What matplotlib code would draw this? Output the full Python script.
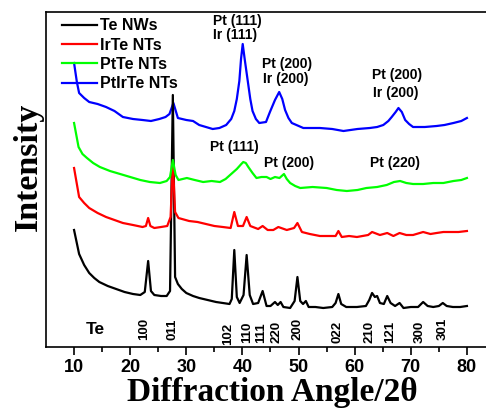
import matplotlib
matplotlib.use("Agg")
import matplotlib.pyplot as plt
from matplotlib.lines import Line2D

plt.rcParams['font.family'] = ['Liberation Sans', 'DejaVu Sans']

# XRD patterns (2theta in degrees, intensity in arbitrary units, offset per sample)
te_x = [10.0, 10.9, 11.8, 12.7, 13.6, 14.5, 16.0, 17.5, 19.0, 20.5,
        21.8, 22.6, 23.2, 23.7, 24.3, 25.5, 26.5, 27.1, 27.6, 28.0,
        28.5, 29.2, 30.0, 31.2, 32.3, 33.8, 35.3, 36.5, 37.7, 38.1,
        38.55, 39.0, 39.5, 40.2, 40.75, 41.3, 41.9, 42.8, 43.6, 44.3,
        45.0, 45.8, 46.3, 46.8, 47.3, 48.5, 49.3, 49.8, 50.3, 50.8,
        51.3, 51.8, 53.0, 54.4, 56.0, 56.6, 57.1, 57.6, 58.5, 60.4,
        62.0, 62.6, 63.1, 63.6, 64.0, 64.5, 65.2, 65.8, 66.4, 67.2,
        68.0, 68.7, 70.0, 71.3, 72.2, 73.0, 74.0, 75.0, 75.7, 76.4,
        77.5, 78.8, 80.0]
te_y = [117, 93, 82, 74, 69, 65, 61, 58, 55, 53,
        52, 55, 86, 56, 52, 51, 51, 56, 252, 70,
        63, 58, 54, 51, 49, 47, 45, 44, 43, 48,
        97, 50, 44, 52, 92, 52, 43, 44, 56, 41,
        41, 45, 42, 45, 40, 39, 46, 70, 46, 43,
        46, 40, 40, 39, 40, 44, 53, 43, 40, 40,
        41, 47, 54, 50, 51, 44, 43, 51, 44, 41,
        44, 39, 40, 40, 45, 41, 40, 41, 44, 41,
        40, 40, 41]

irte_x = [10.0, 10.9, 11.8, 12.7, 14.2, 15.7, 17.2, 18.7, 20.5, 22.2,
          22.8, 23.2, 23.6, 24.3, 25.5, 26.6, 27.2, 27.6, 28.0, 28.6,
          30.5, 32.0, 33.5, 35.0, 36.5, 37.9, 38.55, 39.2, 40.1, 40.75,
          41.4, 42.8, 43.6, 44.5, 45.5, 46.4, 47.9, 49.2, 49.8, 50.6,
          52.0, 53.8, 55.5, 56.6, 57.1, 57.7, 59.0, 60.4, 62.4, 63.1,
          64.5, 65.8, 66.9, 68.0, 69.2, 70.4, 72.2, 73.5, 74.6, 75.8,
          77.0, 78.5, 80.0]
irte_y = [179, 150, 144, 139, 134, 130, 127, 124, 122, 120,
          121, 129, 121, 119, 120, 121, 130, 185, 135, 129,
          126, 125, 123, 121, 120, 119, 135, 121, 121, 130,
          121, 118, 121, 117, 117, 120, 117, 119, 124, 115,
          113, 111, 111, 111, 116, 110, 111, 110, 112, 115,
          112, 114, 111, 114, 112, 112, 115, 113, 114, 115,
          115, 115, 116]

ptte_x = [10.0, 10.8, 11.5, 12.3, 13.4, 14.6, 16.4, 18.2, 20.0, 21.8,
          23.5, 25.3, 26.5, 27.1, 27.6, 28.1, 28.6, 30.1, 31.5, 33.0,
          34.5, 36.0, 37.0, 37.8, 39.0, 39.8, 40.15, 40.6, 41.05, 41.8,
          42.5, 43.4, 44.3, 45.0, 45.8, 46.6, 47.4, 47.9, 48.5, 49.4,
          50.3, 52.5, 55.0, 56.8, 58.6, 60.5, 62.1, 64.0, 65.7, 67.0,
          68.1, 69.2, 70.4, 72.2, 74.0, 75.8, 77.6, 79.0, 80.0]
ptte_y = [224, 200, 193, 189, 184, 180, 176, 173, 170, 167,
          165, 164, 166, 170, 187, 172, 167, 169, 167, 165,
          166, 165, 168, 172, 178, 183, 185, 184, 180, 174,
          169, 170, 170, 168, 170, 169, 173, 168, 164, 161,
          159, 160, 159, 157, 156, 157, 159, 160, 162, 165,
          166, 164, 163, 163, 164, 164, 166, 167, 169]

ptirte_x = [10.0, 10.5, 10.9, 11.8, 12.7, 14.2, 15.7, 17.2, 18.7, 20.5,
            22.2, 23.7, 25.2, 26.3, 27.0, 27.7, 28.5, 30.0, 31.2, 32.3,
            33.5, 34.7, 35.9, 37.1, 38.0, 38.55, 39.0, 39.45, 39.75, 40.05,
            40.4, 40.95, 41.4, 41.8, 42.4, 43.0, 44.2, 44.9, 45.8, 46.55,
            47.1, 47.6, 48.2, 48.8, 50.85, 52.5, 53.8, 56.0, 58.0, 60.5,
            62.7, 64.0, 65.1, 66.0, 66.6, 67.3, 67.8, 68.4, 69.0, 69.7,
            70.4, 72.5, 74.6, 76.0, 77.6, 79.0, 80.0]
ptirte_y = [284, 265, 254, 249, 245, 243, 240, 236, 230, 228,
            227, 226, 228, 230, 233, 244, 229, 227, 226, 222,
            220, 218, 219, 222, 228, 236, 248, 266, 288, 303,
            288, 266, 248, 236, 228, 224, 225, 235, 247, 255,
            248, 237, 229, 224, 219, 219, 219, 218, 216, 218,
            219, 220, 222, 226, 230, 235, 239, 235, 227, 223,
            220, 220, 221, 222, 224, 226, 229]

series_names = ['Te NWs', 'IrTe NTs', 'PtTe NTs', 'PtIrTe NTs']

peak_labels = ['Pt (111)', 'Ir (111)', 'Pt (200)', 'Ir (200)', 'Pt (200)', 'Ir (200)',
               'Pt (111)', 'Pt (200)', 'Pt (220)']
peak_label_x = [34.75, 34.75, 43.5, 43.6, 63.1, 63.2, 34.2, 43.85, 62.7]
peak_label_y = [326, 312, 283, 268, 272, 254, 200, 184, 184]

hkl = ['100', '011', '102', '110', '111', '220', '200', '022', '210', '121', '300', '301']
hkl_x = [22.5, 27.5, 37.4, 40.8, 43.3, 46.0, 49.9, 57.0, 62.7, 66.3, 71.6, 75.7]
hkl_y = [7, 7, 2, 4, 4, 4, 7, 4, 4, 4, 4, 7]

fig = plt.figure(figsize=(4.86, 4.09), dpi=100)
ax = fig.add_axes([46 / 486, 1 - 347 / 409, 1 - 46 / 486, 335 / 409])

ax.plot(ptirte_x, ptirte_y, color='#0000ff', lw=1.6, zorder=1)
ax.plot(te_x, te_y, color='black', lw=1.6, zorder=2)
ax.plot(irte_x, irte_y, color='#ff0000', lw=1.6, zorder=3)
ax.plot(ptte_x, ptte_y, color='#00ff00', lw=1.6, zorder=4)

handles = [Line2D([], [], color=c, lw=1.6) for c in ['black', '#ff0000', '#00ff00', '#0000ff']]
ax.legend(handles, series_names, loc='upper left', bbox_to_anchor=(0.036, 0.981),
          frameon=False, borderpad=0, borderaxespad=0, handlelength=2.2,
          handletextpad=0.2, labelspacing=0.27, prop={'weight': 'bold', 'size': 11.5})

for t, x, y in zip(peak_labels, peak_label_x, peak_label_y):
    ax.text(x, y, t, ha='left', va='center', fontsize=10, fontweight='bold')

ax.text(12.0, 10, 'Te', ha='left', va='bottom', fontsize=12.5, fontweight='bold')
for t, x, y in zip(hkl, hkl_x, hkl_y):
    ax.text(x, y, t, rotation=90, ha='center', va='bottom', fontsize=9.5, fontweight='bold')

ax.set_xlim(5, 83.4)
ax.set_ylim(0, 335)
ax.set_xticks(range(10, 81, 10))
ax.set_xticks(range(15, 80, 10), minor=True)
ax.set_yticks([])
ax.tick_params(axis='x', which='major', direction='out', length=6, width=1.2, pad=2.5,
               labelsize=13)
ax.tick_params(axis='x', which='minor', direction='out', length=3.5, width=1.2)
for lab in ax.get_xticklabels():
    lab.set_fontweight('bold')
ax.spines['right'].set_visible(False)
for s in ['left', 'top', 'bottom']:
    ax.spines[s].set_linewidth(1.2)

fig.text(28 / 486, 1 - 167 / 409, 'Intensity', rotation=90, ha='center', va='center',
         fontsize=24.5, fontweight='bold', family='Liberation Serif')
fig.text(272 / 486, 1 - 401 / 409, 'Diffraction Angle/2\u03b8', ha='center', va='baseline',
         fontsize=24, fontweight='bold', family='Liberation Serif')

fig.savefig('out.png', dpi=100)
